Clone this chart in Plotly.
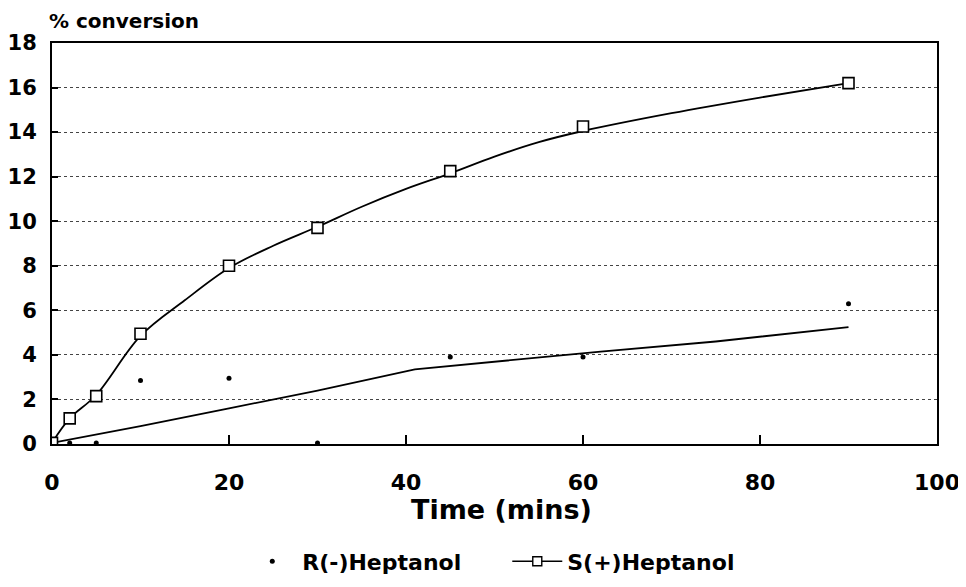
import plotly.graph_objects as go

time_pts = [0, 2, 5, 10, 20, 30, 45, 60, 90]
r_heptanol = [0.05, 0.05, 0.05, 2.85, 2.95, 0.05, 3.9, 3.9, 6.3]
s_heptanol = [0.05, 1.15, 2.15, 4.95, 8.0, 9.7, 12.25, 14.25, 16.2]

# fitted curves as drawn on the chart
s_fit_x = [0, 2, 5, 10, 15, 20, 25, 30, 35, 40, 45, 50, 55, 60, 70, 80, 90]
s_fit_y = [0.05, 1.15, 2.2, 4.85, 6.45, 7.9, 8.9, 9.75, 10.65, 11.45, 12.15, 12.9, 13.55, 14.05, 14.85, 15.55, 16.2]
r_fit_x = [0, 10, 20, 30, 41, 50, 62, 75, 90]
r_fit_y = [0.05, 0.8, 1.6, 2.4, 3.35, 3.7, 4.15, 4.6, 5.25]

font_name = "DejaVu Sans, Arial, sans-serif"

fig = go.Figure()

fig.add_trace(go.Scatter(x=s_fit_x, y=s_fit_y, mode="lines", line_shape="spline",
                         line=dict(color="black", width=1.8), showlegend=False))
fig.add_trace(go.Scatter(x=r_fit_x, y=r_fit_y, mode="lines",
                         line=dict(color="black", width=1.8), showlegend=False))
fig.add_trace(go.Scatter(x=time_pts, y=r_heptanol, mode="markers", name="R(-)Heptanol",
                         marker=dict(symbol="circle", size=5, color="black")))
fig.add_trace(go.Scatter(x=time_pts, y=s_heptanol, mode="markers", showlegend=False,
                         marker=dict(symbol="square", size=11, color="white",
                                     line=dict(color="black", width=1.6))))
# legend entry for S(+) (line with square)
fig.add_trace(go.Scatter(x=[None], y=[None], mode="lines+markers", name="S(+)Heptanol",
                         line=dict(color="black", width=1.5),
                         marker=dict(symbol="square", size=9, color="white",
                                     line=dict(color="black", width=1.4))))

fig.update_xaxes(range=[0, 100], tickvals=[0, 20, 40, 60, 80, 100],
                 ticks="inside", ticklen=9, tickwidth=2, tickcolor="black",
                 showline=True, linecolor="black", linewidth=2, mirror=True,
                 showgrid=False, zeroline=False, automargin=False, ticklabelstandoff=18,
                 tickfont=dict(family=font_name, size=22, color="black", weight="bold"))
fig.update_yaxes(range=[0, 18], tickvals=list(range(0, 19, 2)),
                 ticks="inside", ticklen=6, tickwidth=1.5, tickcolor="black",
                 showline=True, linecolor="black", linewidth=2, mirror=True,
                 showgrid=True, gridcolor="#444444", griddash="dot", gridwidth=1,
                 zeroline=False, automargin=False, ticklabelstandoff=9,
                 tickfont=dict(family=font_name, size=21, color="black", weight="bold"))

fig.add_annotation(text="% conversion", xref="paper", yref="paper", x=-0.0056, y=1.054,
                   xanchor="left", yanchor="middle", showarrow=False,
                   font=dict(family=font_name, size=20, color="black", weight="bold"))
fig.add_annotation(text="Time (mins)", xref="paper", yref="paper", x=0.508, y=-0.163,
                   xanchor="center", yanchor="middle", showarrow=False,
                   font=dict(family=font_name, size=27, color="black", weight="bold"))

fig.update_layout(
    width=966, height=587,
    margin=dict(l=44, r=37, t=35, b=146),
    plot_bgcolor="white", paper_bgcolor="white",
    legend=dict(orientation="h", x=0.215, xanchor="left", y=-0.293, yanchor="middle",
                font=dict(family=font_name, size=22, color="black", weight="bold"),
                itemwidth=50, entrywidth=200, entrywidthmode="pixels"),
)

fig.write_html("out.html")
